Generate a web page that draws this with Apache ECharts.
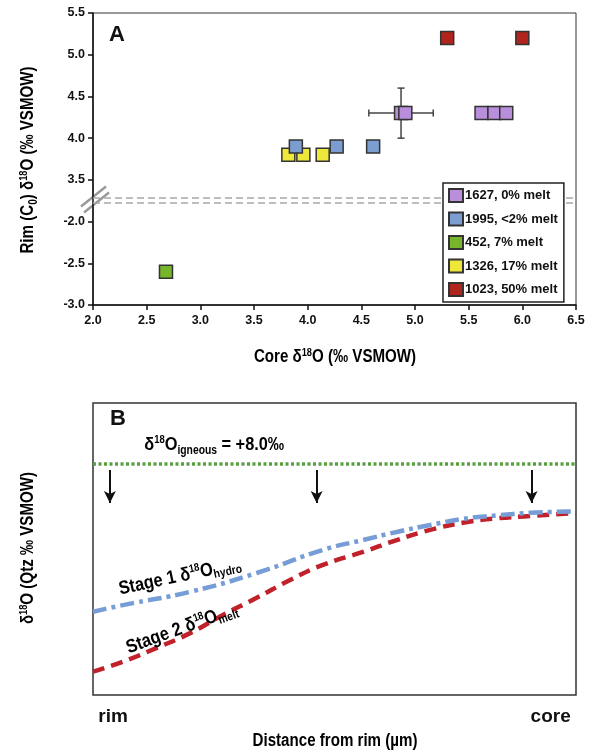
<!DOCTYPE html>
<html>
<head>
<meta charset="utf-8">
<script src="https://cdn.jsdelivr.net/npm/echarts@6/dist/echarts.min.js"></script>
<style>
html,body{margin:0;padding:0;background:#fff}
#chart{width:590px;height:753px}
</style>
</head>
<body>
<div id="chart"></div>
<script>
const FONT = "'Liberation Sans', Arial, sans-serif"

// panel A: core vs rim d18O per sample
const sampleNames = ['1627, 0% melt', '1995, <2% melt', '452, 7% melt', '1326, 17% melt', '1023, 50% melt']
const core1627 = [4.87, 4.91, 5.62, 5.74, 5.85]
const rim1627 = [4.3, 4.3, 4.3, 4.3, 4.3]
const core1995 = [3.89, 4.27, 4.61]
const rim1995 = [3.9, 3.9, 3.9]
const core452 = [2.68]
const rim452 = [-2.6]
const core1326 = [3.82, 3.96, 4.14]
const rim1326 = [3.8, 3.8, 3.8]
const core1023 = [5.3, 6.0]
const rim1023 = [5.2, 5.2]
// error bar on one 1627 analysis: [core, rim, +-core, +-rim]
const errBar1627 = [4.87, 4.3, 0.3, 0.3]

// the y axis is broken: values above the gap are shifted down by this amount
const BREAK_SHIFT = 5.0
const breakLines = [-1.711, -1.783]

// panel B: schematic profiles
const stage1X = [0, 6.2, 20.1, 33.9, 47.6, 55.9, 62.9, 69.8, 76.6, 83.6, 90.5, 100]
const stage1Y = [2.88, 3.11, 3.57, 4.22, 5.02, 5.36, 5.64, 5.88, 6.09, 6.21, 6.30, 6.35]
const stage2X = [0, 6.2, 13.2, 20.1, 26.9, 33.9, 40.8, 47.6, 55.9, 62.9, 69.8, 76.6, 83.6, 90.5, 100]
const stage2Y = [0.81, 1.15, 1.63, 2.14, 2.77, 3.36, 3.98, 4.50, 4.95, 5.36, 5.71, 5.96, 6.11, 6.19, 6.30]
const igneous = 8.0
const arrowX = [3.5, 46.3, 90.8]
const arrowFrom = 7.78
const arrowTo = 6.64

const colors = ['#b98fdc', '#7b9dd0', '#77b52a', '#eee83a', '#b1241e']

function disp(y){
  return y > 0 ? y - BREAK_SHIFT : y
}
function pts(xs, ys){
  return xs.map((x, i) => [x, disp(ys[i])])
}
function line(xs, ys){
  return xs.map((x, i) => [x, ys[i]])
}

function sampleSeries(i, xs, ys, z){
  return {
    name: sampleNames[i],
    type: 'scatter',
    xAxisIndex: 0,
    yAxisIndex: 0,
    symbol: 'rect',
    symbolSize: 13,
    z: z,
    silent: true,
    itemStyle: { color: colors[i], borderColor: '#333', borderWidth: 1.5, opacity: 1 },
    data: pts(xs, ys)
  }
}

const tickFont = { fontSize: 12.5, fontWeight: 'bold', fontFamily: FONT, color: '#111' }

var myChart = echarts.init(document.getElementById('chart'))

const option = {
  animation: false,
  grid: [
    { left: 93, top: 13, width: 483, height: 292, show: true, borderColor: '#333', borderWidth: 1 },
    { left: 93, top: 403, width: 483, height: 292, show: true, borderColor: '#333', borderWidth: 1.5 }
  ],
  legend: {
    data: sampleNames,
    orient: 'vertical',
    left: 443,
    top: 183,
    icon: 'rect',
    itemWidth: 14,
    itemHeight: 13,
    itemGap: 8.5,
    padding: [5, 6, 5, 5],
    borderColor: '#222',
    borderWidth: 1.5,
    backgroundColor: '#fff',
    textStyle: { fontSize: 13, fontWeight: 'bold', fontFamily: FONT, color: '#111', padding: [0, 0, 0, -3] },
    z: 10
  },
  xAxis: [
    {
      gridIndex: 0,
      type: 'value',
      min: 2,
      max: 6.5,
      interval: 0.5,
      splitLine: { show: false },
      axisLine: { onZero: false, lineStyle: { color: '#111', width: 1.5 } },
      axisTick: { length: 5, lineStyle: { color: '#111', width: 1.5 } },
      axisLabel: Object.assign({ margin: 9, formatter: v => v.toFixed(1) }, tickFont)
    },
    {
      gridIndex: 1,
      type: 'value',
      min: 0,
      max: 100,
      interval: 100,
      splitLine: { show: false },
      axisLine: { show: false, onZero: false },
      axisTick: { show: false },
      axisLabel: {
        fontSize: 19, fontWeight: 'bold', fontFamily: FONT, color: '#111', margin: 12,
        alignMinLabel: 'left', alignMaxLabel: 'right',
        formatter: v => v === 0 ? ' rim' : 'core '
      }
    }
  ],
  yAxis: [
    {
      gridIndex: 0,
      type: 'value',
      min: -3,
      max: 0.5,
      interval: 0.5,
      splitLine: { show: false },
      axisLine: { onZero: false, lineStyle: { color: '#111', width: 1.5 } },
      axisTick: { length: 5, lineStyle: { color: '#111', width: 1.5 } },
      axisLabel: Object.assign({
        margin: 8,
        formatter: v => (v > -1.75 ? v + BREAK_SHIFT : v).toFixed(1)
      }, tickFont)
    },
    {
      gridIndex: 1,
      type: 'value',
      min: 0,
      max: 10.1,
      splitLine: { show: false },
      axisLine: { show: false, onZero: false },
      axisTick: { show: false },
      axisLabel: { show: false }
    }
  ],
  series: [
    {
      type: 'custom',
      xAxisIndex: 0,
      yAxisIndex: 0,
      z: 1,
      silent: true,
      data: [[errBar1627[0], disp(errBar1627[1]), errBar1627[2], errBar1627[3]]],
      renderItem(params, api){
        const x = api.value(0), y = api.value(1), dx = api.value(2), dy = api.value(3)
        const l = api.coord([x - dx, y]), r = api.coord([x + dx, y])
        const t = api.coord([x, y + dy]), b = api.coord([x, y - dy])
        const cap = 3.5
        const st = { stroke: '#444', lineWidth: 1.5 }
        const seg = (x1, y1, x2, y2) => ({ type: 'line', shape: { x1, y1, x2, y2 }, style: st })
        return {
          type: 'group',
          children: [
            seg(l[0], l[1], r[0], r[1]),
            seg(t[0], t[1], b[0], b[1]),
            seg(l[0], l[1] - cap, l[0], l[1] + cap),
            seg(r[0], r[1] - cap, r[0], r[1] + cap),
            seg(t[0] - cap, t[1], t[0] + cap, t[1]),
            seg(b[0] - cap, b[1], b[0] + cap, b[1])
          ]
        }
      }
    },
    Object.assign(sampleSeries(0, core1627, rim1627, 2), {
      markLine: {
        silent: true,
        symbol: 'none',
        label: { show: false },
        lineStyle: { color: '#a8a8a8', type: [7, 4], width: 1.5 },
        data: breakLines.map(v => ({ yAxis: v }))
      }
    }),
    sampleSeries(1, core1995, rim1995, 3),
    sampleSeries(2, core452, rim452, 2),
    sampleSeries(3, core1326, rim1326, 2),
    sampleSeries(4, core1023, rim1023, 2),
    {
      name: 'Stage 1',
      type: 'line',
      xAxisIndex: 1,
      yAxisIndex: 1,
      smooth: true,
      symbol: 'none',
      silent: true,
      z: 3,
      lineStyle: { color: '#769dd6', width: 4.5, type: [14, 5, 4, 5] },
      data: line(stage1X, stage1Y),
      markLine: {
        silent: true,
        symbol: 'none',
        label: { show: false },
        lineStyle: { color: '#56a040', type: [3, 2.5], width: 3.5 },
        data: [{ yAxis: igneous }]
      }
    },
    {
      name: 'Stage 2',
      type: 'line',
      xAxisIndex: 1,
      yAxisIndex: 1,
      smooth: true,
      symbol: 'none',
      silent: true,
      z: 2,
      lineStyle: { color: '#c0212b', width: 4.5, type: [12, 7] },
      data: line(stage2X, stage2Y),
      markLine: {
        silent: true,
        symbol: ['none', 'arrow'],
        symbolSize: [9, 12],
        label: { show: false },
        lineStyle: { color: '#111', type: 'solid', width: 2 },
        data: arrowX.map(x => [{ coord: [x, arrowFrom] }, { coord: [x, arrowTo] }])
      }
    }
  ]
}

myChart.setOption(option)

// decorations placed from the axes
const brk = myChart.convertToPixel({ xAxisIndex: 0, yAxisIndex: 0 }, [2, (breakLines[0] + breakLines[1]) / 2])
const pIgn = myChart.convertToPixel({ xAxisIndex: 1, yAxisIndex: 1 }, [10.4, 8.65])
const pS1 = myChart.convertToPixel({ xAxisIndex: 1, yAxisIndex: 1 }, [18, 4.1])
const pS2 = myChart.convertToPixel({ xAxisIndex: 1, yAxisIndex: 1 }, [18.4, 2.3])

function richSet(size){
  return {
    b: { fontSize: size, fontWeight: 'bold', fontFamily: FONT, color: '#111' },
    sup: { fontSize: Math.round(size * 0.6), fontWeight: 'bold', fontFamily: FONT, color: '#111', padding: [0, 0, Math.round(size * 0.5), 0] },
    sub: { fontSize: Math.round(size * 0.65), fontWeight: 'bold', fontFamily: FONT, color: '#111', padding: [Math.round(size * 0.6), 0, 0, 0] }
  }
}

// narrow-looking label: text squeezed horizontally
function label(text, x, y, size, rotDeg, squeeze){
  return {
    type: 'text',
    x: x,
    y: y,
    rotation: rotDeg * Math.PI / 180,
    scaleX: squeeze,
    z: 15,
    style: { text: text, rich: richSet(size), align: 'center', verticalAlign: 'middle' }
  }
}

myChart.setOption({
  graphic: [
    { type: 'text', left: 109, top: 24, style: { text: 'A', font: 'bold 22px ' + FONT, fill: '#111' } },
    { type: 'text', left: 110, top: 408, style: { text: 'B', font: 'bold 22px ' + FONT, fill: '#111' } },
    {
      type: 'group',
      x: brk[0],
      y: brk[1],
      z: 20,
      children: [
        { type: 'polygon', shape: { points: [[-11, 5], [13, -14], [16, -8], [-8, 11]] }, style: { fill: '#fff' } },
        { type: 'line', shape: { x1: -12, y1: 6, x2: 13, y2: -14 }, style: { stroke: '#999', lineWidth: 2.5 } },
        { type: 'line', shape: { x1: -9, y1: 12, x2: 16, y2: -8 }, style: { stroke: '#999', lineWidth: 2.5 } }
      ]
    },
    label('{b|Core δ}{sup|18}{b|O (‰ VSMOW)}', 335, 357, 18, 0, 0.84),
    label('{b|Rim (C}{sub|0}{b|) δ}{sup|18}{b|O (‰ VSMOW)}', 28, 160, 18, 90, 0.84),
    label('{b|Distance from rim (µm)}', 335, 741, 18, 0, 0.84),
    label('{b|δ}{sup|18}{b|O (Qtz ‰ VSMOW)}', 28, 548, 18, 90, 0.84),
    label('{b|δ}{sup|18}{b|O}{sub|igneous}{b| = +8.0‰}', pIgn[0] + 71, pIgn[1], 19, 0, 0.86),
    label('{b|Stage 1 δ}{sup|18}{b|O}{sub|hydro}', pS1[0], pS1[1], 19, 12, 0.86),
    label('{b|Stage 2 δ}{sup|18}{b|O}{sub|melt}', pS2[0], pS2[1], 19, 20, 0.86)
  ]
})
</script>
</body>
</html>
